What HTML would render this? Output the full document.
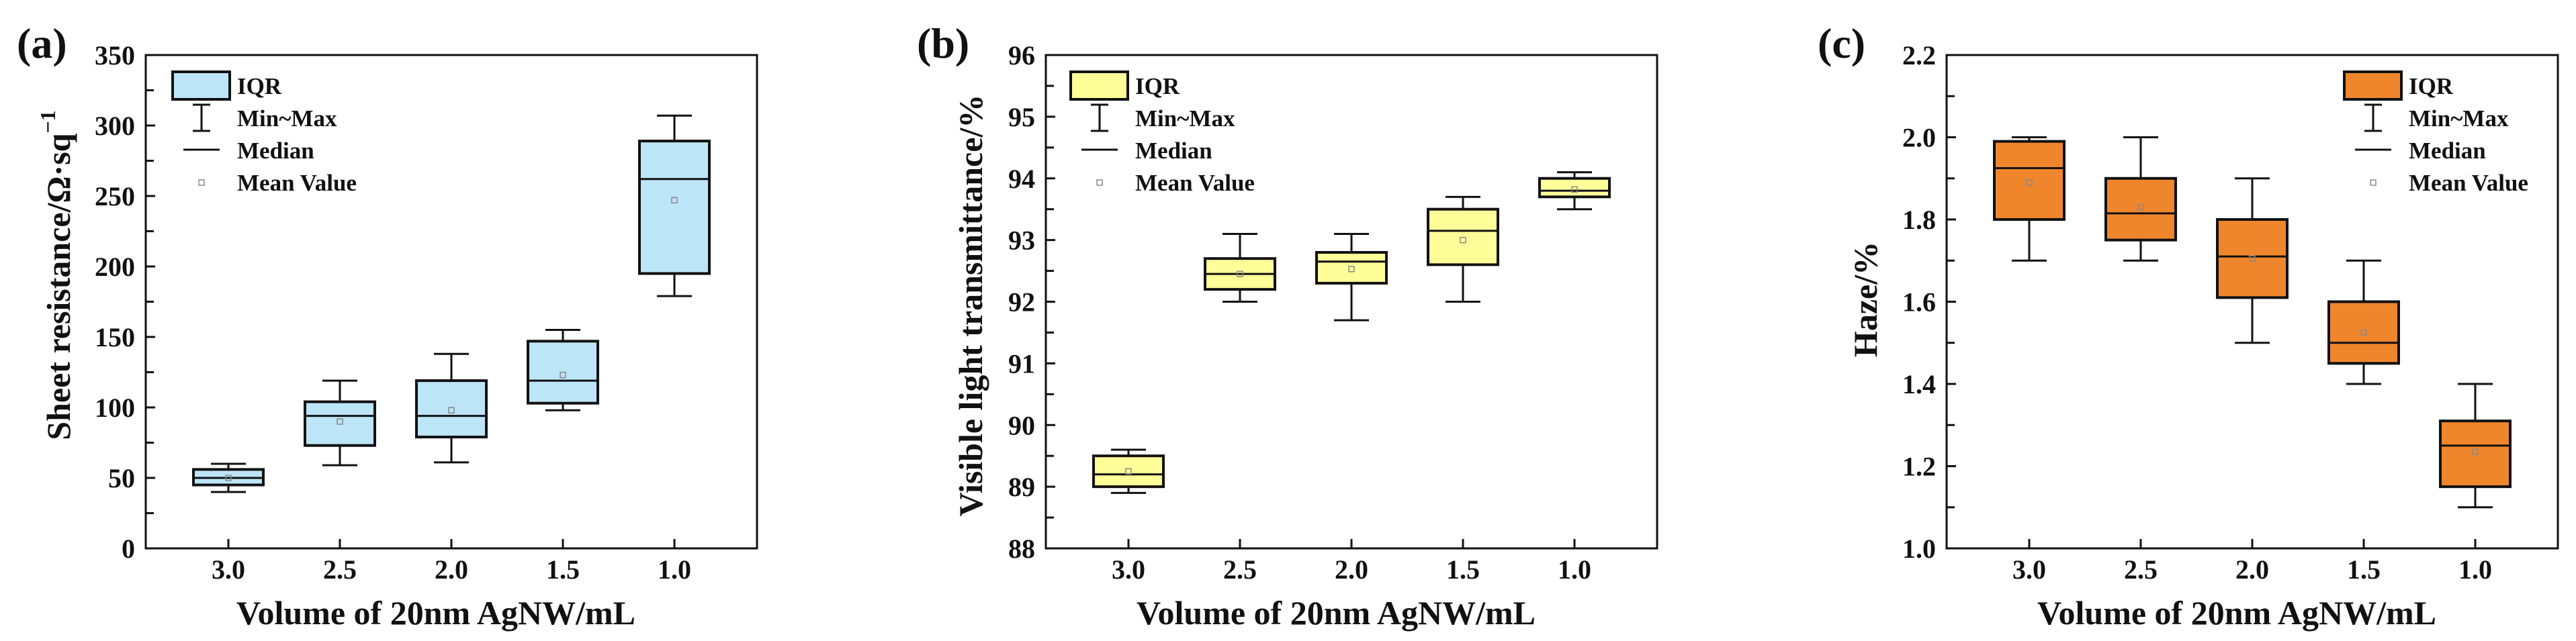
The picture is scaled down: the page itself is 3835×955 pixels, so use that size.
<!DOCTYPE html>
<html><head><meta charset="utf-8"><style>
html,body{margin:0;padding:0;background:#fff;}
svg{display:block;font-family:"Liberation Serif",serif;font-weight:bold;}
</style></head><body>
<svg id="fig" width="3835" height="955" viewBox="0 0 3835 955"></svg>
<script>
const categories = ["3.0","2.5","2.0","1.5","1.0"];
// panel a: sheet resistance
const aMin = [40,59,61,98,179];
const aQ1 = [45,73,79,103,195];
const aMed = [50,94,94,119,262];
const aQ3 = [56,104,119,147,289];
const aMax = [60,119,138,155,307];
const aMean = [50,90,98,123,247];
const aTicks = [0,50,100,150,200,250,300,350];
// panel b: transmittance
const bMin = [88.9,92.0,91.7,92.0,93.5];
const bQ1 = [89.0,92.2,92.3,92.6,93.7];
const bMed = [89.2,92.45,92.65,93.15,93.8];
const bQ3 = [89.5,92.7,92.8,93.5,94.0];
const bMax = [89.6,93.1,93.1,93.7,94.1];
const bMean = [89.25,92.45,92.53,93.0,93.82];
const bTicks = [88,89,90,91,92,93,94,95,96];
// panel c: haze
const cMin = [1.7,1.7,1.5,1.4,1.1];
const cQ1 = [1.8,1.75,1.61,1.45,1.15];
const cMed = [1.925,1.815,1.71,1.5,1.25];
const cQ3 = [1.99,1.9,1.8,1.6,1.31];
const cMax = [2.0,2.0,1.9,1.7,1.4];
const cMean = [1.89,1.83,1.705,1.525,1.235];
const cTicks = [1.0,1.2,1.4,1.6,1.8,2.0,2.2];

const NS="http://www.w3.org/2000/svg";
const svg=document.getElementById('fig');
function mk(tag,attrs,parent){const e=document.createElementNS(NS,tag);for(const k in attrs)e.setAttribute(k,attrs[k]);(parent||svg).appendChild(e);return e;}

function panel(o){
  const g=mk('g',{});
  
  
  const L=o.left,R=o.left+910,T=82,B=817;
  const ys=v=>B-(v-o.ymin)/(o.ymax-o.ymin)*(B-T);
  const xs=i=>L+123+i*166;
  // ticks
  const n=o.ticks.length;
  for(let k=0;k<n;k++){
    const v=o.ticks[k];
    const t=mk('line',{x1:L,x2:L+14,y1:ys(v),y2:ys(v),stroke:'#111','stroke-width':3},g);
    
    
    const lb=mk('text',{x:L-16,y:ys(v)+14,'text-anchor':'end','font-size':40,fill:'#111'},g);
    lb.textContent=o.fmt(v);
    
    
    if(k<n-1){
      const mv=(o.ticks[k]+o.ticks[k+1])/2;
      const m=mk('line',{x1:L,x2:L+12,y1:ys(mv),y2:ys(mv),stroke:'#111','stroke-width':3},g);
      
      
    }
  }
  categories.forEach((c,i)=>{
    const t=mk('line',{x1:xs(i),x2:xs(i),y1:B,y2:B-14,stroke:'#111','stroke-width':3},g);
    
    
    const lb=mk('text',{x:xs(i),y:862,'text-anchor':'middle','font-size':40,fill:'#111'},g);
    lb.textContent=c;
    
    
  });
  // boxes
  const bw=104;
  categories.forEach((c,i)=>{
    const x=xs(i);
    const w=mk('line',{x1:x,x2:x,y1:ys(o.max[i]),y2:ys(o.min[i]),stroke:'#111','stroke-width':3},g);
    
    
    [o.max[i],o.min[i]].forEach(v=>{
      const cap=mk('line',{x1:x-26,x2:x+26,y1:ys(v),y2:ys(v),stroke:'#111','stroke-width':3},g);
      
      
    });
    const r=mk('rect',{x:x-bw/2,y:ys(o.q3[i]),width:bw,height:ys(o.q1[i])-ys(o.q3[i]),fill:o.color,stroke:'#111','stroke-width':4},g);
    
    
    const md=mk('line',{x1:x-bw/2,x2:x+bw/2,y1:ys(o.med[i]),y2:ys(o.med[i]),stroke:'#111','stroke-width':3},g);
    
    
    const mn=mk('rect',{x:x-4,y:ys(o.mean[i])-4,width:8,height:8,fill:'none',stroke:'#888','stroke-width':1.5},g);
    
    
  });
  const fr=mk('rect',{x:L,y:T,width:910,height:B-T,fill:'none',stroke:'#111','stroke-width':3},g);
  
  
  // labels
  const pl=mk('text',{x:L-192,y:86,'font-size':64,fill:'#111'},g);
  pl.textContent=o.label;
  
  
  const xt=mk('text',{x:L+432,y:930,'text-anchor':'middle','font-size':50,fill:'#111'},g);
  xt.textContent='Volume of 20nm AgNW/mL';
  
  
  const yt=mk('text',{x:0,y:0,'text-anchor':'middle','font-size':50,fill:'#111',transform:`translate(${o.ytx},${o.yty}) rotate(-90)`},g);
  yt.innerHTML=o.ytitle;
  
  
  // legend
  const lx=L+o.legOff;
  const lg=mk('g',{},g);
  
  
  const lr=mk('rect',{x:lx,y:107,width:85,height:41,fill:o.color,stroke:'#111','stroke-width':4},lg);
  
  
  mk('line',{x1:lx+43,x2:lx+43,y1:156,y2:195,stroke:'#111','stroke-width':3},lg);
  mk('line',{x1:lx+30,x2:lx+56,y1:156,y2:156,stroke:'#111','stroke-width':3},lg);
  mk('line',{x1:lx+30,x2:lx+56,y1:195,y2:195,stroke:'#111','stroke-width':3},lg);
  mk('line',{x1:lx+16,x2:lx+70,y1:223,y2:223,stroke:'#111','stroke-width':3},lg);
  mk('rect',{x:lx+39,y:268,width:8,height:8,fill:'none',stroke:'#888','stroke-width':1.5},lg);
  const names=['IQR','Min~Max','Median','Mean Value'],ly=[140,188,236,284];
  names.forEach((s,k)=>{
    const t=mk('text',{x:lx+96,y:ly[k],'font-size':35,fill:'#111'},lg);
    t.textContent=s;
    
    
  });
}
panel({name:'panel-a-sheet-resistance',left:217,ymin:0,ymax:350,ticks:aTicks,fmt:v=>String(v),min:aMin,q1:aQ1,med:aMed,q3:aQ3,max:aMax,mean:aMean,color:'#bde5f8',label:'(a)',ytitle:'Sheet resistance/Ω·sq<tspan dy="-22" font-size="32">−1</tspan>',ytx:104,yty:410,legOff:40});
panel({name:'panel-b-transmittance',left:1557,ymin:88,ymax:96,ticks:bTicks,fmt:v=>String(v),min:bMin,q1:bQ1,med:bMed,q3:bQ3,max:bMax,mean:bMean,color:'#ffff99',label:'(b)',ytitle:'Visible light transmittance/%',ytx:1462,yty:455,legOff:37});
panel({name:'panel-c-haze',left:2898,ymin:1.0,ymax:2.2,ticks:cTicks,fmt:v=>v.toFixed(1),min:cMin,q1:cQ1,med:cMed,q3:cQ3,max:cMax,mean:cMean,color:'#f0862c',label:'(c)',ytitle:'Haze/%',ytx:2794,yty:446,legOff:592});
</script>
</body></html>
